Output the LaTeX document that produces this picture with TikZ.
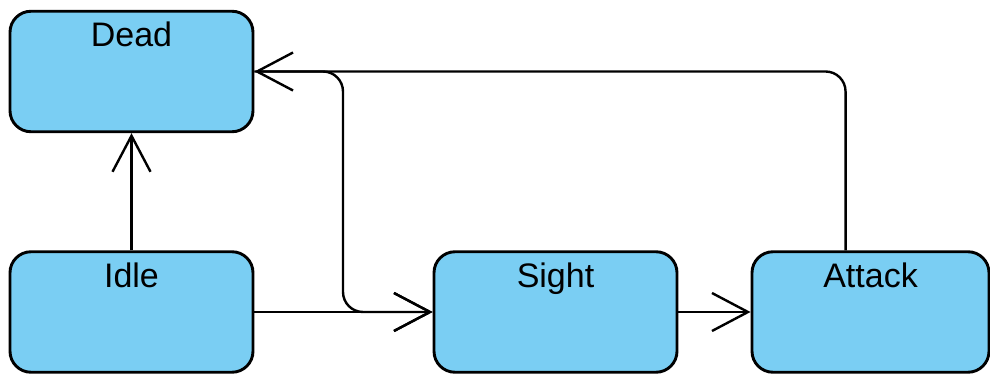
\documentclass[tikz,border=0pt]{standalone}
\usepackage{fontspec}
\setmainfont{Liberation Sans}
\usetikzlibrary{arrows.meta}
\definecolor{statefill}{RGB}{122,206,243}
\tikzset{
  statebox/.style={draw=black, line width=2.9pt, fill=statefill, rounded corners=21pt,
    minimum width=243pt, inner xsep=0pt, inner ysep=11pt,
    text height=24.5pt, text depth=74pt, font=\fontsize{34}{38}\selectfont},
  trans/.style={draw=black, line width=2.4pt, rounded corners=20pt,
    -{Straight Barb[length=36pt,width=38pt,line width=2.4pt]}},
}
\begin{document}
\begin{tikzpicture}[x=1pt,y=-1pt]
  \useasboundingbox (0,0) rectangle (990,374);
  % states
  \node[statebox] (dead)   at (131.5,71.5) {Dead};
  \node[statebox] (idle)   at (131.5,312)  {Idle};
  \node[statebox] (sight)  at (555.5,312)  {Sight};
  \node[statebox, minimum width=237pt] (attack) at (870.5,312) {Attack};
  % routing point of the Sight/Dead connector
  \coordinate (bend) at (343,0);
  % transitions
  \draw[trans] (idle.north) -- (dead.south);
  \draw[trans] (idle.east) -- (sight.west);
  \draw[trans] (sight.east) -- (attack.west);
  \draw[trans] ([xshift=95pt]attack.north west) |- (dead.east);
  \draw[trans] (dead.east) -- (dead.east -| bend) -- (sight.west -| bend) -- (sight.west);
\end{tikzpicture}
\end{document}
